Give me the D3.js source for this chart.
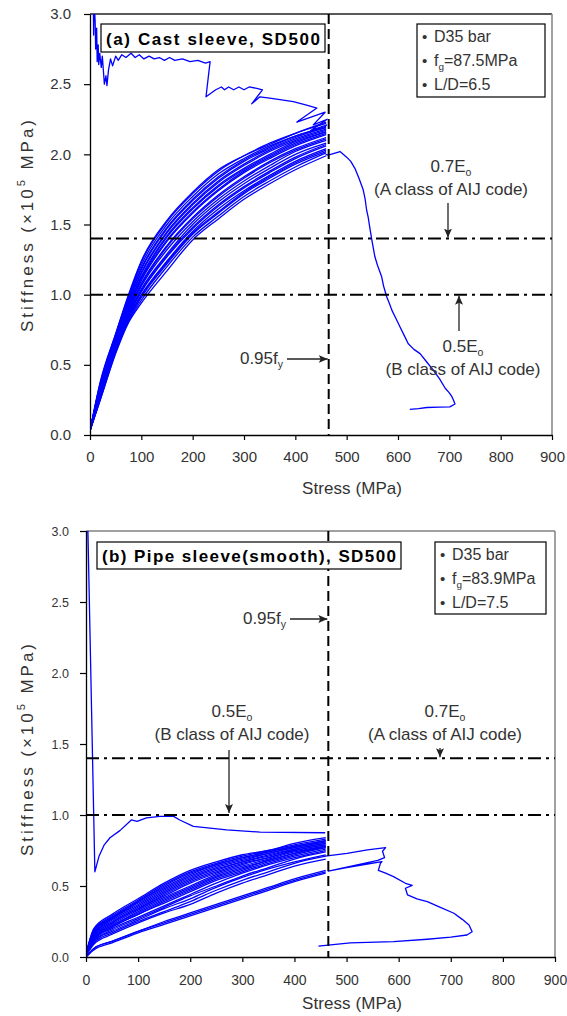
<!DOCTYPE html>
<html>
<head>
<meta charset="utf-8">
<script src="https://cdn.jsdelivr.net/npm/d3@7"></script>
<style>
body { margin: 0; background: #fff; }
text { font-family: "Liberation Sans", Arial, sans-serif; fill: #333; }
</style>
</head>
<body>
<svg id="fig" width="567" height="1016"></svg>
<script>
// ---------------------------------------------------------------- data
var stressTicks = [0, 100, 200, 300, 400, 500, 600, 700, 800, 900];
var stiffTicks = [0, 0.5, 1.0, 1.5, 2.0, 2.5, 3.0];
var yieldStress = 465;          // 0.95 fy
var classALevel = 1.4;          // 0.7 Eo
var classBLevel = 1.0;          // 0.5 Eo

// (a) cast sleeve: repeated loading loops, stiffness at each stress step
var loopStressA = [0, 20, 50, 75, 100, 150, 200, 250, 300, 350, 400, 460];
var loopStiffA = [
    [0.03, 0.38, 0.72, 1.00, 1.24, 1.53, 1.73, 1.89, 1.99, 2.08, 2.15, 2.22],
    [0.03, 0.37, 0.72, 0.99, 1.23, 1.52, 1.72, 1.88, 1.99, 2.07, 2.15, 2.23],
    [0.03, 0.36, 0.71, 0.98, 1.21, 1.50, 1.70, 1.86, 1.97, 2.06, 2.13, 2.20],
    [0.03, 0.36, 0.70, 0.97, 1.19, 1.48, 1.68, 1.84, 1.96, 2.05, 2.13, 2.19],
    [0.03, 0.35, 0.69, 0.96, 1.18, 1.47, 1.67, 1.83, 1.95, 2.04, 2.12, 2.19],
    [0.03, 0.34, 0.68, 0.95, 1.16, 1.45, 1.65, 1.81, 1.93, 2.03, 2.11, 2.18],
    [0.03, 0.34, 0.68, 0.94, 1.15, 1.44, 1.64, 1.80, 1.92, 2.02, 2.10, 2.17],
    [0.03, 0.33, 0.67, 0.93, 1.13, 1.42, 1.62, 1.78, 1.90, 2.00, 2.09, 2.16],
    [0.03, 0.33, 0.67, 0.92, 1.12, 1.41, 1.61, 1.77, 1.89, 1.99, 2.08, 2.16],
    [0.03, 0.32, 0.66, 0.91, 1.11, 1.39, 1.59, 1.75, 1.88, 1.98, 2.07, 2.15],
    [0.03, 0.32, 0.66, 0.90, 1.10, 1.38, 1.58, 1.74, 1.87, 1.97, 2.06, 2.14],
    [0.03, 0.31, 0.65, 0.89, 1.08, 1.35, 1.55, 1.71, 1.84, 1.95, 2.04, 2.12],
    [0.03, 0.31, 0.64, 0.88, 1.07, 1.34, 1.54, 1.70, 1.83, 1.94, 2.03, 2.11],
    [0.03, 0.30, 0.64, 0.87, 1.06, 1.32, 1.52, 1.68, 1.81, 1.92, 2.02, 2.10],
    [0.03, 0.29, 0.63, 0.86, 1.04, 1.29, 1.50, 1.66, 1.79, 1.90, 2.00, 2.08],
    [0.03, 0.29, 0.62, 0.85, 1.03, 1.28, 1.48, 1.64, 1.77, 1.88, 1.98, 2.07],
    [0.03, 0.28, 0.62, 0.85, 1.02, 1.27, 1.47, 1.63, 1.76, 1.87, 1.97, 2.06],
    [0.03, 0.27, 0.61, 0.84, 1.00, 1.24, 1.45, 1.61, 1.74, 1.85, 1.95, 2.04],
    [0.03, 0.27, 0.60, 0.83, 0.99, 1.23, 1.44, 1.59, 1.73, 1.84, 1.94, 2.03],
    [0.03, 0.26, 0.60, 0.82, 0.98, 1.22, 1.43, 1.58, 1.72, 1.83, 1.93, 2.02],
    [0.03, 0.25, 0.59, 0.81, 0.96, 1.20, 1.41, 1.56, 1.70, 1.81, 1.91, 2.01],
    [0.03, 0.25, 0.58, 0.80, 0.94, 1.17, 1.39, 1.54, 1.68, 1.79, 1.89, 1.99]
];
// (a) first loading (noisy high stiffness line)
var firstLoadA = [
    [6, 3.3], [7, 2.85], [8, 3.1], [10, 2.95], [11, 2.75], [13, 2.9], [14, 2.66],
    [16, 2.78], [17, 2.64], [19, 2.72], [22, 2.62], [24, 2.70], [28, 2.50],
    [31, 2.56], [33, 2.49], [36, 2.60], [40, 2.68], [44, 2.63], [50, 2.70],
    [55, 2.67], [62, 2.71], [70, 2.69], [80, 2.72], [88, 2.69], [96, 2.71],
    [105, 2.68], [115, 2.70], [125, 2.68], [135, 2.69], [145, 2.67], [155, 2.69],
    [165, 2.67], [180, 2.68], [195, 2.66], [210, 2.67], [225, 2.65], [234, 2.66],
    [232, 2.60], [226, 2.41], [245, 2.46], [256, 2.48], [262, 2.46], [270, 2.48],
    [280, 2.46], [290, 2.48], [300, 2.46], [310, 2.48], [325, 2.47], [336, 2.46],
    [315, 2.36], [331, 2.41], [350, 2.40], [370, 2.39], [396, 2.375], [422, 2.35],
    [442, 2.33], [403, 2.23], [458, 2.30], [435, 2.21], [462, 2.25], [430, 2.17],
    [462, 2.21]
];
// (a) last loading past 0.95fy
var postPeakA = [
    [459, 2.00], [464, 1.995], [487, 2.02], [500, 1.98], [508, 1.95], [516, 1.90],
    [524, 1.83], [532, 1.75], [536, 1.68], [539, 1.60], [542, 1.55], [545, 1.48],
    [549, 1.39], [552, 1.33], [555, 1.27], [560, 1.21], [568, 1.13], [572, 1.06],
    [578, 0.985], [584, 0.93], [588, 0.89], [596, 0.83], [604, 0.77], [612, 0.71],
    [620, 0.65], [631, 0.61], [643, 0.58], [656, 0.52], [669, 0.46], [681, 0.40],
    [692, 0.333], [700, 0.30], [705, 0.273], [708, 0.25], [711, 0.221],
    [701, 0.20], [680, 0.198], [656, 0.196], [640, 0.188], [623, 0.183]
];

// (b) pipe sleeve (smooth)
var loopStressB = [0, 15, 50, 100, 150, 200, 250, 300, 350, 400, 460];
var loopStiffB = [
    [0.02, 0.20, 0.30, 0.41, 0.52, 0.61, 0.67, 0.72, 0.75, 0.80, 0.84],
    [0.02, 0.19, 0.29, 0.40, 0.51, 0.60, 0.66, 0.71, 0.75, 0.79, 0.83],
    [0.02, 0.19, 0.28, 0.39, 0.50, 0.59, 0.65, 0.70, 0.74, 0.78, 0.82],
    [0.02, 0.18, 0.28, 0.39, 0.49, 0.58, 0.65, 0.70, 0.74, 0.78, 0.82],
    [0.02, 0.17, 0.27, 0.38, 0.48, 0.57, 0.64, 0.69, 0.73, 0.77, 0.81],
    [0.02, 0.17, 0.27, 0.37, 0.47, 0.56, 0.63, 0.68, 0.73, 0.77, 0.81],
    [0.02, 0.16, 0.26, 0.36, 0.46, 0.55, 0.62, 0.67, 0.72, 0.76, 0.80],
    [0.02, 0.16, 0.25, 0.35, 0.45, 0.54, 0.61, 0.67, 0.71, 0.76, 0.80],
    [0.01, 0.15, 0.24, 0.34, 0.44, 0.53, 0.60, 0.66, 0.70, 0.75, 0.79],
    [0.01, 0.15, 0.24, 0.34, 0.43, 0.52, 0.59, 0.65, 0.70, 0.75, 0.79],
    [0.01, 0.14, 0.23, 0.33, 0.42, 0.50, 0.58, 0.64, 0.69, 0.74, 0.78],
    [0.01, 0.14, 0.22, 0.32, 0.41, 0.49, 0.57, 0.63, 0.68, 0.73, 0.78],
    [0.01, 0.13, 0.22, 0.31, 0.40, 0.48, 0.56, 0.62, 0.68, 0.73, 0.77],
    [0.01, 0.13, 0.21, 0.30, 0.39, 0.47, 0.55, 0.61, 0.67, 0.72, 0.77],
    [0.01, 0.12, 0.21, 0.30, 0.38, 0.46, 0.54, 0.60, 0.66, 0.71, 0.76],
    [0.01, 0.12, 0.20, 0.28, 0.36, 0.44, 0.52, 0.59, 0.65, 0.70, 0.75],
    [0.01, 0.11, 0.19, 0.27, 0.35, 0.43, 0.50, 0.57, 0.63, 0.69, 0.74],
    [0.01, 0.11, 0.18, 0.26, 0.34, 0.41, 0.49, 0.56, 0.62, 0.67, 0.72],
    [0.01, 0.10, 0.17, 0.25, 0.32, 0.39, 0.47, 0.54, 0.60, 0.66, 0.71],
    [0.01, 0.09, 0.16, 0.24, 0.31, 0.37, 0.45, 0.52, 0.58, 0.64, 0.69],
    [0.00, 0.06, 0.11, 0.18, 0.25, 0.31, 0.37, 0.43, 0.49, 0.55, 0.61],
    [0.00, 0.06, 0.11, 0.18, 0.24, 0.30, 0.36, 0.42, 0.48, 0.54, 0.60],
    [0.00, 0.05, 0.10, 0.17, 0.23, 0.29, 0.35, 0.41, 0.47, 0.53, 0.59]
];
var firstLoadB = [
    [0, 0.02], [1, 3.3], [2, 3.3], [17, 0.60], [25, 0.71], [35, 0.79], [46, 0.84],
    [65, 0.89], [87, 0.965], [98, 0.955], [116, 0.98], [142, 0.99], [168, 0.99],
    [180, 0.965], [206, 0.92], [270, 0.895], [334, 0.88], [459, 0.875]
];
var postPeakB = [
    [459, 0.71], [501, 0.73], [540, 0.754], [575, 0.77], [569, 0.745], [573, 0.70],
    [560, 0.68], [465, 0.605], [500, 0.63], [540, 0.655], [568, 0.672], [565, 0.66],
    [561, 0.61], [575, 0.59], [590, 0.566], [613, 0.519], [626, 0.505], [613, 0.484],
    [617, 0.437], [635, 0.41], [655, 0.39], [680, 0.35], [706, 0.308], [722, 0.265],
    [735, 0.225], [741, 0.178], [731, 0.155], [700, 0.14], [655, 0.125], [590, 0.108],
    [507, 0.10], [446, 0.077]
];

var titleA = "(a) Cast sleeve, SD500";
var titleB = "(b) Pipe sleeve(smooth), SD500";
var fgA = "=87.5MPa", ldA = "L/D=6.5";
var fgB = "=83.9MPa", ldB = "L/D=7.5";

// ---------------------------------------------------------------- drawing
var svg = d3.select("#fig");
var blue = "#0000ff";

var defs = svg.append("defs");
defs.append("marker")
    .attr("id", "head")
    .attr("markerUnits", "userSpaceOnUse")
    .attr("viewBox", "0 -4 9 8")
    .attr("markerWidth", 9).attr("markerHeight", 8)
    .attr("refX", 9).attr("refY", 0)
    .attr("orient", "auto")
    .append("path").attr("d", "M0,-4L9,0L0,4L2,0Z").attr("fill", "#222");

function subText (g, x, y, main, sub, rest, size, anchor) {
    var t = g.append("text").attr("x", x).attr("y", y)
        .attr("font-size", size).attr("text-anchor", anchor || "start");
    t.append("tspan").text(main);
    t.append("tspan").attr("font-size", size * 0.62).attr("dy", size * 0.22).text(sub);
    if (rest) {
        t.append("tspan").attr("dy", -size * 0.22).text(rest);
    }
    return t;
}

function arrow (g, x1, y1, x2, y2) {
    g.append("line").attr("x1", x1).attr("y1", y1).attr("x2", x2).attr("y2", y2)
        .attr("stroke", "#222").attr("stroke-width", 1.3)
        .attr("marker-end", "url(#head)");
}

function panel (o) {
    var g = svg.append("g");
    var x = d3.scaleLinear().domain([0, 900]).range([o.left, o.right]);
    var y = d3.scaleLinear().domain([0, 3]).range([o.bottom, o.top]);

    // frame
    g.append("line").attr("x1", o.left).attr("x2", o.right).attr("y1", o.top).attr("y2", o.top)
        .attr("stroke", o.topColor).attr("stroke-width", 1.3);
    g.append("line").attr("x1", o.right).attr("x2", o.right).attr("y1", o.top).attr("y2", o.bottom)
        .attr("stroke", "#8a8a8a").attr("stroke-width", 1.6);

    var clipId = "clip" + o.id;
    defs.append("clipPath").attr("id", clipId).append("rect")
        .attr("x", o.left).attr("y", o.top)
        .attr("width", o.right - o.left).attr("height", o.bottom - o.top);

    var body = g.append("g").attr("clip-path", "url(#" + clipId + ")");
    var lineLin = d3.line().x(function (d) { return x(d[0]); }).y(function (d) { return y(d[1]); });
    var lineSmooth = d3.line().curve(d3.curveMonotoneX)
        .x(function (d) { return x(d[0]); }).y(function (d) { return y(d[1]); });

    o.loops.forEach(function (row) {
        var pts = o.loopStress.map(function (s, i) { return [s, row[i]]; });
        body.append("path").attr("d", lineSmooth(pts))
            .attr("fill", "none").attr("stroke", blue).attr("stroke-width", 1.3);
    });
    [o.first, o.post].forEach(function (pts) {
        body.append("path").attr("d", lineLin(pts))
            .attr("fill", "none").attr("stroke", blue).attr("stroke-width", 1.3)
            .attr("stroke-linejoin", "round");
    });

    // code limits
    [classALevel, classBLevel].forEach(function (v) {
        g.append("line").attr("x1", o.left).attr("x2", o.right)
            .attr("y1", y(v)).attr("y2", y(v))
            .attr("stroke", "#000").attr("stroke-width", 2)
            .attr("stroke-dasharray", "13,5,3,5");
    });
    // 0.95 fy
    g.append("line").attr("x1", x(yieldStress)).attr("x2", x(yieldStress))
        .attr("y1", o.top).attr("y2", o.bottom)
        .attr("stroke", "#000").attr("stroke-width", 2)
        .attr("stroke-dasharray", "10,5");

    // axes
    var ax = g.append("g").attr("transform", "translate(0," + o.bottom + ")")
        .call(d3.axisBottom(x).tickValues(stressTicks).tickSize(5).tickSizeOuter(0)
            .tickPadding(o.xPad).tickFormat(d3.format("d")));
    var ay = g.append("g").attr("transform", "translate(" + o.left + ",0)")
        .call(d3.axisLeft(y).tickValues(stiffTicks).tickSize(6).tickSizeOuter(0)
            .tickPadding(o.yPad).tickFormat(d3.format(".1f")));
    [ax, ay].forEach(function (a) {
        a.select(".domain").attr("stroke", "#000").attr("stroke-width", 1.3);
        a.selectAll(".tick line").attr("stroke", "#000").attr("stroke-width", 1.2);
        a.selectAll(".tick text").style("font-family", "'Liberation Sans', Arial, sans-serif")
            .attr("fill", "#333");
    });
    ax.selectAll(".tick text").attr("font-size", o.xFont);
    ay.selectAll(".tick text").attr("font-size", o.yFont);

    // axis titles
    g.append("text").attr("x", o.xTitleX).attr("y", o.xTitleY)
        .attr("text-anchor", "middle").attr("font-size", 17)
        .attr("textLength", 100).attr("lengthAdjust", "spacing")
        .text("Stress (MPa)");
    var yt = g.append("text")
        .attr("transform", "translate(" + o.yTitleX + "," + o.yTitleY + ") rotate(-90)")
        .attr("text-anchor", "middle").attr("font-size", 17)
        .attr("textLength", 212).attr("lengthAdjust", "spacing");
    yt.append("tspan").text("Stiffness (\u00d710");
    yt.append("tspan").attr("font-size", 11).attr("dy", -8).text("5");
    yt.append("tspan").attr("dy", 8).text(" MPa)");

    // title box
    g.append("rect").attr("x", o.tBox[0]).attr("y", o.tBox[1])
        .attr("width", o.tBox[2]).attr("height", o.tBox[3])
        .attr("fill", "#fff").attr("stroke", "#000").attr("stroke-width", 1.2);
    g.append("text").attr("x", o.tBox[0] + 5).attr("y", o.tBox[1] + o.tBox[3] - 7)
        .attr("font-size", 17).attr("font-weight", "bold").style("fill", "#000")
        .attr("textLength", o.tBox[2] - 10).attr("lengthAdjust", "spacing")
        .text(o.title);

    // info box
    var ib = o.iBox;
    g.append("rect").attr("x", ib[0]).attr("y", ib[1]).attr("width", ib[2]).attr("height", ib[3])
        .attr("fill", "#fff").attr("stroke", "#000").attr("stroke-width", 1.2);
    var bx = ib[0] + 5, tx = ib[0] + 17;
    [0, 1, 2].forEach(function (i) {
        g.append("text").attr("x", bx).attr("y", ib[1] + 18 + i * 24)
            .attr("font-size", 15).text("\u2022");
    });
    g.append("text").attr("x", tx).attr("y", ib[1] + 18).attr("font-size", 16).text("D35 bar");
    subText(g, tx, ib[1] + 42, "f", "g", o.fg, 16);
    g.append("text").attr("x", tx).attr("y", ib[1] + 66).attr("font-size", 16).text(o.ld);

    // annotations
    var n = o.notes;
    subText(g, n.aX, n.aY, "0.7E", "o", null, 17, "middle");
    g.append("text").attr("x", n.aX).attr("y", n.aY + 23).attr("font-size", 17)
        .attr("text-anchor", "middle").text("(A class of AIJ code)");
    arrow(g, n.aArrow[0], n.aArrow[1], n.aArrow[0], y(classALevel) - 1);

    subText(g, n.bX, n.bY, "0.5E", "o", null, 17, "middle");
    g.append("text").attr("x", n.bX).attr("y", n.bY + 23).attr("font-size", 17)
        .attr("text-anchor", "middle").text("(B class of AIJ code)");
    if (n.bUp) {
        arrow(g, n.bArrow[0], n.bArrow[1], n.bArrow[0], y(classBLevel) + 1);
    } else {
        arrow(g, n.bArrow[0], n.bArrow[1], n.bArrow[0], y(classBLevel) - 2);
    }

    subText(g, n.fyX, n.fyY, "0.95f", "y", null, 17, "end");
    arrow(g, n.fyX + 4, n.fyY - 5, x(yieldStress) - 1, n.fyY - 5);
}

panel({
    id: "a", left: 90, right: 552, top: 14, bottom: 435, topColor: "#222",
    loopStress: loopStressA, loops: loopStiffA, first: firstLoadA, post: postPeakA,
    xPad: 11, yPad: 13, xFont: 15, yFont: 15,
    xTitleX: 352, xTitleY: 494, yTitleX: 33, yTitleY: 226,
    title: titleA, tBox: [101, 24, 224, 28],
    iBox: [417, 24, 128, 73], fg: fgA, ld: ldA,
    notes: {
        aX: 451, aY: 172, aArrow: [448, 203],
        bX: 463, bY: 352, bArrow: [459, 331], bUp: true,
        fyX: 283, fyY: 364
    }
});

panel({
    id: "b", left: 86, right: 555, top: 531, bottom: 957, topColor: "#808080",
    loopStress: loopStressB, loops: loopStiffB, first: firstLoadB, post: postPeakB,
    xPad: 13, yPad: 11, xFont: 14, yFont: 12.5,
    xTitleX: 352, xTitleY: 1009, yTitleX: 33, yTitleY: 750,
    title: titleB, tBox: [97, 542, 304, 27],
    iBox: [435, 542, 111, 72], fg: fgB, ld: ldB,
    notes: {
        aX: 445, aY: 717, aArrow: [440, 748],
        bX: 232, bY: 717, bArrow: [229, 750], bUp: false,
        fyX: 286, fyY: 624
    }
});
</script>
</body>
</html>
